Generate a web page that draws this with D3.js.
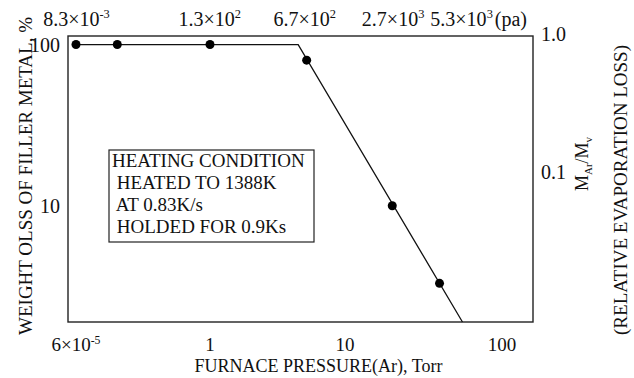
<!DOCTYPE html>
<html>
<head>
<meta charset="utf-8">
<script src="https://cdn.jsdelivr.net/npm/d3@7"></script>
<style>
  body { margin: 0; background: #fff; }
  svg { display: block; }
  svg text { font-family: 'Liberation Serif', 'DejaVu Serif', 'Times New Roman', Times, serif; fill: #111; }
</style>
</head>
<body>
<svg class="chart" width="634" height="378"></svg>
<script>
// measured points (furnace pressure in Torr, weight loss in %)
const pressureTorr = [6e-5, 1.2e-3, 1, 5.2, 20, 40]
const weightLoss = [100, 100, 100, 80, 10, 3.3]

// fitted line through the points
const fitTorr = [6e-5, 4.5, 56]
const fitLoss = [100, 100, 1.9]

// bottom axis (Torr), the left part is compressed
const bottomTicks = [6e-5, 1, 10, 100]
const bottomLabels = [['6×10', '-5'], ['1', ''], ['10', ''], ['100', '']]

// top axis, same pressures in Pa
const topPa = [8.3e-3, 1.3e2, 6.7e2, 2.7e3, 5.3e3]
const topLabels = [['8.3×10', '-3'], ['1.3×10', '2'], ['6.7×10', '2'], ['2.7×10', '3'], ['5.3×10', '3']]
const topUnit = '(pa)'

const leftTicks = [100, 10]
const rightTicks = [1.0, 0.1]
const rightLabels = ['1.0', '0.1']

const noteLines = ['HEATING CONDITION', ' HEATED TO 1388K', ' AT 0.83K/s', ' HOLDED FOR 0.9Ks']

const PA_PER_TORR = 133.32

const margin = { top: 36, right: 101, bottom: 56, left: 68 }
const W = 634, H = 378
const w = W - margin.left - margin.right
const h = H - margin.top - margin.bottom

const svg = d3.select('svg.chart')
const g = svg.append('g').attr('transform', `translate(${margin.left},${margin.top})`)

// broken log axis: piecewise log scale
const x = d3.scaleLog()
  .domain([4e-5, 6e-5, 1, 10, 100, 157])
  .range([0, 8, 142, 277, 434, w])

const y = d3.scaleLog().domain([1.9, 113]).range([h, 0])
const yRight = d3.scaleLog().domain([1.0, 0.1]).range([-2, 136])

// frame
g.append('rect')
  .attr('width', w).attr('height', h)
  .attr('fill', 'none').attr('stroke', '#222').attr('stroke-width', 1.4)

// fitted line
const line = d3.line().x(d => x(d[0])).y(d => y(d[1]))
g.append('path')
  .datum(d3.zip(fitTorr, fitLoss))
  .attr('d', line)
  .attr('fill', 'none').attr('stroke', '#111').attr('stroke-width', 1.3)

// points
g.selectAll('circle.pt')
  .data(d3.zip(pressureTorr, weightLoss))
  .join('circle')
  .attr('class', 'pt')
  .attr('cx', d => x(d[0])).attr('cy', d => y(d[1]))
  .attr('r', 4.5).attr('fill', '#000')

const supText = (sel, parts, size) => {
  sel.append('tspan').text(parts[0])
  if (parts[1]) {
    sel.append('tspan').attr('font-size', size * 0.62).attr('dy', -size * 0.38).text(parts[1])
  }
}

// bottom tick labels
g.selectAll('text.bt')
  .data(bottomTicks)
  .join('text')
  .attr('class', 'bt')
  .attr('x', d => x(d)).attr('y', h + 29)
  .attr('text-anchor', 'middle')
  .attr('font-size', 19)
  .each(function (d, i) { supText(d3.select(this), bottomLabels[i], 19) })

// top labels, spaced so they do not overlap
let lastRight = -Infinity
topPa.forEach((pa, i) => {
  const t = g.append('text')
    .attr('y', -10)
    .attr('font-size', 20)
  supText(t, topLabels[i], 20)
  const bw = t.node().getComputedTextLength()
  let left = x(pa / PA_PER_TORR) - bw / 2
  if (left < lastRight + 6) left = lastRight + 6
  t.attr('x', left)
  lastRight = left + bw
  if (i === topPa.length - 1) {
    t.append('tspan').attr('dy', 20 * 0.38).attr('dx', 2).text(topUnit)
  }
})

// left tick labels
g.selectAll('text.lt')
  .data(leftTicks)
  .join('text')
  .attr('class', 'lt')
  .attr('x', -8).attr('y', d => y(d)).attr('dy', '0.35em')
  .attr('text-anchor', 'end')
  .attr('font-size', 20)
  .text(d => d)

// right tick labels
g.selectAll('text.rt')
  .data(rightTicks)
  .join('text')
  .attr('class', 'rt')
  .attr('x', w + 8).attr('y', d => yRight(d)).attr('dy', '0.35em')
  .attr('font-size', 20)
  .text((d, i) => rightLabels[i])

// axis titles
svg.append('text')
  .attr('transform', 'translate(32,176) rotate(-90)')
  .attr('text-anchor', 'middle')
  .attr('font-size', 19)
  .text('WEIGHT OLSS OF FILLER METAL, %')

svg.append('text')
  .attr('x', margin.left + w / 2 + 18).attr('y', 372)
  .attr('text-anchor', 'middle')
  .attr('font-size', 18)
  .text('FURNACE PRESSURE(Ar), Torr')

const mt = svg.append('text')
  .attr('transform', 'translate(588,164) rotate(-90)')
  .attr('text-anchor', 'middle')
  .attr('font-size', 18)
mt.append('tspan').text('M')
mt.append('tspan').attr('font-size', 11).attr('dy', 4).text('Ar')
mt.append('tspan').attr('dy', -4).text('/M')
mt.append('tspan').attr('font-size', 11).attr('dy', 4).text('v')

svg.append('text')
  .attr('transform', 'translate(627,190) rotate(-90)')
  .attr('text-anchor', 'middle')
  .attr('font-size', 19)
  .text('(RELATIVE EVAPORATION LOSS)')

// note box
const note = svg.append('g').attr('transform', 'translate(109,150)')
note.append('rect')
  .attr('width', 205).attr('height', 92)
  .attr('fill', '#fff').attr('stroke', '#222').attr('stroke-width', 1.2)
note.selectAll('text')
  .data(noteLines)
  .join('text')
  .attr('x', 3).attr('y', (d, i) => 17 + i * 22)
  .attr('font-size', 19)
  .style('white-space', 'pre')
  .text(d => d)
</script>
</body>
</html>
